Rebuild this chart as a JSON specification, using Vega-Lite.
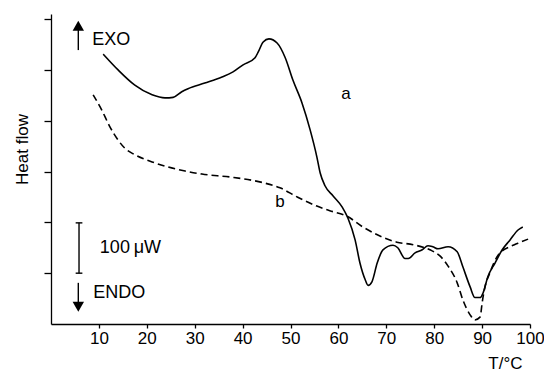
{
  "$schema": "https://vega.github.io/schema/vega-lite/v6.json",
  "autosize": "none",
  "width": 479,
  "height": 310,
  "padding": {"left": 51, "top": 14, "right": 14, "bottom": 48},
  "background": "white",
  "config": {
    "view": {"stroke": null},
    "font": "Liberation Sans",
    "axis": {
      "grid": false,
      "domainColor": "black",
      "domainWidth": 1.3,
      "tickColor": "black",
      "tickWidth": 1.3,
      "labelColor": "black",
      "labelFont": "Liberation Sans",
      "labelFontSize": 17,
      "titleFont": "Liberation Sans",
      "titleColor": "black",
      "titleFontWeight": "normal",
      "titleFontSize": 17
    },
    "text": {"font": "Liberation Sans", "fontSize": 18, "color": "black"}
  },
  "datasets": {
    "curves": [
      {"series": "a", "T": 10.9, "hf": 5.31},
      {"series": "a", "T": 14.0, "hf": 5.0},
      {"series": "a", "T": 17.5, "hf": 4.7},
      {"series": "a", "T": 21.1, "hf": 4.51},
      {"series": "a", "T": 23.8, "hf": 4.45},
      {"series": "a", "T": 25.5, "hf": 4.46},
      {"series": "a", "T": 27.3, "hf": 4.57},
      {"series": "a", "T": 28.6, "hf": 4.63},
      {"series": "a", "T": 32.1, "hf": 4.74},
      {"series": "a", "T": 35.7, "hf": 4.86},
      {"series": "a", "T": 38.0, "hf": 4.96},
      {"series": "a", "T": 40.1, "hf": 5.1},
      {"series": "a", "T": 42.6, "hf": 5.24},
      {"series": "a", "T": 43.3, "hf": 5.36},
      {"series": "a", "T": 44.3, "hf": 5.55},
      {"series": "a", "T": 45.5, "hf": 5.61},
      {"series": "a", "T": 47.2, "hf": 5.53},
      {"series": "a", "T": 48.9, "hf": 5.24},
      {"series": "a", "T": 50.5, "hf": 4.8},
      {"series": "a", "T": 52.4, "hf": 4.35},
      {"series": "a", "T": 54.1, "hf": 3.82},
      {"series": "a", "T": 55.5, "hf": 3.29},
      {"series": "a", "T": 56.2, "hf": 2.97},
      {"series": "a", "T": 57.2, "hf": 2.72},
      {"series": "a", "T": 58.9, "hf": 2.52},
      {"series": "a", "T": 60.8, "hf": 2.3},
      {"series": "a", "T": 62.0, "hf": 2.08},
      {"series": "a", "T": 63.5, "hf": 1.65},
      {"series": "a", "T": 64.5, "hf": 1.2},
      {"series": "a", "T": 65.6, "hf": 0.87},
      {"series": "a", "T": 66.2, "hf": 0.76},
      {"series": "a", "T": 67.0, "hf": 0.83},
      {"series": "a", "T": 68.1, "hf": 1.2},
      {"series": "a", "T": 69.3, "hf": 1.46},
      {"series": "a", "T": 71.4, "hf": 1.55},
      {"series": "a", "T": 72.4, "hf": 1.5},
      {"series": "a", "T": 73.9, "hf": 1.29},
      {"series": "a", "T": 74.6, "hf": 1.29},
      {"series": "a", "T": 76.0, "hf": 1.4},
      {"series": "a", "T": 77.5, "hf": 1.46},
      {"series": "a", "T": 78.7, "hf": 1.54},
      {"series": "a", "T": 79.7, "hf": 1.52},
      {"series": "a", "T": 80.8, "hf": 1.48},
      {"series": "a", "T": 82.9, "hf": 1.52},
      {"series": "a", "T": 84.8, "hf": 1.42},
      {"series": "a", "T": 86.0, "hf": 1.12},
      {"series": "a", "T": 87.5, "hf": 0.73},
      {"series": "a", "T": 88.5, "hf": 0.52},
      {"series": "a", "T": 89.6, "hf": 0.52},
      {"series": "a", "T": 90.2, "hf": 0.61},
      {"series": "a", "T": 91.2, "hf": 0.93},
      {"series": "a", "T": 92.7, "hf": 1.2},
      {"series": "a", "T": 94.2, "hf": 1.46},
      {"series": "a", "T": 95.8, "hf": 1.65},
      {"series": "a", "T": 97.5, "hf": 1.85},
      {"series": "a", "T": 98.5, "hf": 1.91},
      {"series": "b", "T": 8.8, "hf": 4.51},
      {"series": "b", "T": 10.6, "hf": 4.21},
      {"series": "b", "T": 12.3, "hf": 3.88},
      {"series": "b", "T": 14.0, "hf": 3.62},
      {"series": "b", "T": 15.4, "hf": 3.46},
      {"series": "b", "T": 17.5, "hf": 3.33},
      {"series": "b", "T": 21.1, "hf": 3.19},
      {"series": "b", "T": 24.4, "hf": 3.09},
      {"series": "b", "T": 28.0, "hf": 3.01},
      {"series": "b", "T": 31.5, "hf": 2.95},
      {"series": "b", "T": 37.6, "hf": 2.89},
      {"series": "b", "T": 44.3, "hf": 2.78},
      {"series": "b", "T": 47.8, "hf": 2.68},
      {"series": "b", "T": 51.4, "hf": 2.5},
      {"series": "b", "T": 55.5, "hf": 2.32},
      {"series": "b", "T": 58.2, "hf": 2.23},
      {"series": "b", "T": 61.8, "hf": 2.12},
      {"series": "b", "T": 65.1, "hf": 1.91},
      {"series": "b", "T": 72.2, "hf": 1.61},
      {"series": "b", "T": 75.6, "hf": 1.56},
      {"series": "b", "T": 79.1, "hf": 1.46},
      {"series": "b", "T": 81.2, "hf": 1.34},
      {"series": "b", "T": 82.9, "hf": 1.14},
      {"series": "b", "T": 84.8, "hf": 0.81},
      {"series": "b", "T": 86.0, "hf": 0.47},
      {"series": "b", "T": 87.5, "hf": 0.18},
      {"series": "b", "T": 88.5, "hf": 0.08},
      {"series": "b", "T": 89.6, "hf": 0.14},
      {"series": "b", "T": 90.0, "hf": 0.41},
      {"series": "b", "T": 90.6, "hf": 0.73},
      {"series": "b", "T": 91.6, "hf": 1.0},
      {"series": "b", "T": 93.1, "hf": 1.32},
      {"series": "b", "T": 94.2, "hf": 1.44},
      {"series": "b", "T": 95.8, "hf": 1.52},
      {"series": "b", "T": 97.5, "hf": 1.59},
      {"series": "b", "T": 99.6, "hf": 1.67}
    ],
    "leftText": [
      {"T": 8.6, "hf": 5.59, "label": "EXO"},
      {"T": 8.8, "hf": 0.61, "label": "ENDO"}
    ],
    "numText": [
      {"T": 10.2, "hf": 1.5, "label": "100"}
    ],
    "unitText": [
      {"T": 17.3, "hf": 1.5, "label": "μ"},
      {"T": 19.4, "hf": 1.5, "label": "W"}
    ],
    "centerText": [
      {"T": 61.6, "hf": 4.53, "label": "a"},
      {"T": 47.8, "hf": 2.4, "label": "b"}
    ],
    "vrules": [
      {"T": 5.7, "hf": 5.39, "hf2": 5.8},
      {"T": 5.85, "hf": 1.0, "hf2": 1.99},
      {"T": 5.7, "hf": 0.4, "hf2": 0.81}
    ],
    "hrules": [
      {"T": 5.15, "T2": 6.55, "hf": 1.0},
      {"T": 5.15, "T2": 6.55, "hf": 1.99}
    ],
    "upHead": [{"T": 5.7, "hf": 5.87}],
    "downHead": [{"T": 5.7, "hf": 0.34}]
  },
  "layer": [
    {
      "data": {"name": "curves"},
      "transform": [{"filter": "datum.series === 'a'"}],
      "mark": {"type": "line", "interpolate": "monotone", "color": "black", "strokeWidth": 1.6},
      "encoding": {
        "x": {
          "field": "T", "type": "quantitative",
          "scale": {"domain": [0, 100], "nice": false, "zero": false},
          "axis": {
            "values": [10, 20, 30, 40, 50, 60, 70, 80, 90, 100],
            "tickSize": 4,
            "labelPadding": 2,
            "labelFlush": false,
            "labelOverlap": false,
            "labelBound": false,
            "title": "T/°C",
            "titleX": 471,
            "titleY": 39,
            "titleAlign": "right",
            "titleBaseline": "middle",
            "titleAnchor": null
          }
        },
        "y": {
          "field": "hf", "type": "quantitative",
          "scale": {"domain": [0, 6.1], "nice": false, "zero": false},
          "axis": {
            "values": [1, 2, 3, 4, 5, 6],
            "labels": false,
            "tickSize": 7,
            "title": "Heat flow",
            "titleAngle": -90,
            "titleX": -24,
            "titleY": 135,
            "titleAlign": "center",
            "titleBaseline": "alphabetic",
            "titleAnchor": null
          }
        }
      }
    },
    {
      "data": {"name": "curves"},
      "transform": [{"filter": "datum.series === 'b'"}],
      "mark": {"type": "line", "interpolate": "monotone", "color": "black", "strokeWidth": 1.6, "strokeDash": [7, 4]},
      "encoding": {
        "x": {"field": "T", "type": "quantitative"},
        "y": {"field": "hf", "type": "quantitative"}
      }
    },
    {
      "data": {"name": "vrules"},
      "mark": {"type": "rule", "color": "black", "strokeWidth": 1.4},
      "encoding": {
        "x": {"field": "T", "type": "quantitative"},
        "y": {"field": "hf", "type": "quantitative"},
        "y2": {"field": "hf2"}
      }
    },
    {
      "data": {"name": "hrules"},
      "mark": {"type": "rule", "color": "black", "strokeWidth": 1.4},
      "encoding": {
        "x": {"field": "T", "type": "quantitative"},
        "x2": {"field": "T2"},
        "y": {"field": "hf", "type": "quantitative"}
      }
    },
    {
      "data": {"name": "upHead"},
      "mark": {"type": "point", "shape": "triangle-up", "filled": true, "color": "black", "size": 130, "opacity": 1},
      "encoding": {
        "x": {"field": "T", "type": "quantitative"},
        "y": {"field": "hf", "type": "quantitative"}
      }
    },
    {
      "data": {"name": "downHead"},
      "mark": {"type": "point", "shape": "triangle-down", "filled": true, "color": "black", "size": 130, "opacity": 1},
      "encoding": {
        "x": {"field": "T", "type": "quantitative"},
        "y": {"field": "hf", "type": "quantitative"}
      }
    },
    {
      "data": {"name": "leftText"},
      "mark": {"type": "text", "align": "left", "baseline": "middle", "fontSize": 18},
      "encoding": {
        "x": {"field": "T", "type": "quantitative"},
        "y": {"field": "hf", "type": "quantitative"},
        "text": {"field": "label"}
      }
    },
    {
      "data": {"name": "numText"},
      "mark": {"type": "text", "align": "left", "baseline": "middle", "fontSize": 18},
      "encoding": {
        "x": {"field": "T", "type": "quantitative"},
        "y": {"field": "hf", "type": "quantitative"},
        "text": {"field": "label"}
      }
    },
    {
      "data": {"name": "unitText"},
      "mark": {"type": "text", "align": "left", "baseline": "middle", "fontSize": 18},
      "encoding": {
        "x": {"field": "T", "type": "quantitative"},
        "y": {"field": "hf", "type": "quantitative"},
        "text": {"field": "label"},
        "fontStyle": {"field": "label", "type": "nominal", "scale": {"domain": ["μ", "W"], "range": ["italic", "normal"]}, "legend": null}
      }
    },
    {
      "data": {"name": "centerText"},
      "mark": {"type": "text", "align": "center", "baseline": "middle", "fontSize": 17},
      "encoding": {
        "x": {"field": "T", "type": "quantitative"},
        "y": {"field": "hf", "type": "quantitative"},
        "text": {"field": "label"}
      }
    }
  ]
}
